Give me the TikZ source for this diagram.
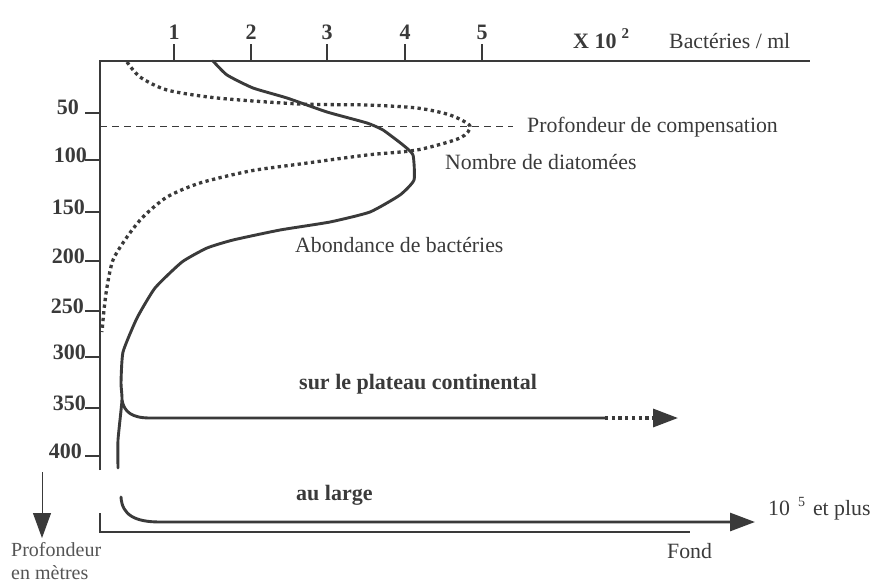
\documentclass[tikz,border=0pt]{standalone}
\usepackage{fontspec}
\setmainfont{Liberation Serif}
\usetikzlibrary{arrows.meta}
\definecolor{ink}{HTML}{3A3A3A}
\definecolor{pale}{HTML}{555555}
\begin{document}
\begin{tikzpicture}[x=1pt,y=-1pt,
  lbl/.style={inner sep=0pt, text=ink, font=\fontsize{21.8}{24}\selectfont},
  blbl/.style={inner sep=0pt, text=ink, font=\fontsize{22}{24}\selectfont\bfseries},
  axis/.style={draw=ink, line width=1.6pt},
  curve/.style={draw=ink, line width=2.9pt, line join=round, line cap=round},
  dots/.style={draw=ink, line width=3.3pt, dash pattern=on 3.3pt off 3.4pt},
  bigtip/.style={-{Triangle[length=25pt,width=18pt]}},
]
\useasboundingbox (0,0) rectangle (880,583);
\fill[white] (0,0) rectangle (880,583);

% axes
\coordinate (O) at (100,61);
\coordinate (ybot) at (100,470);
\coordinate (xend) at (810,61);
\draw[axis] (ybot) -- (O) -- (xend);
\coordinate (b1) at (100,513);
\coordinate (b2) at (100,532);
\coordinate (b3) at (690,532);
\draw[axis] (b1) -- (b2) -- (b3);

% top ticks
\foreach \i/\x in {1/174,2/251,3/327,4/405,5/482}{
  \draw[axis] (\x,61) -- (\x,44);
  \node[blbl, anchor=base] (t\i) at (\x,40) {\i};
}
\node[blbl, anchor=base west] (xunit) at (573,49) {X 10\hspace{5pt}\raisebox{10pt}{\fontsize{15}{16}\selectfont 2}};
\node[lbl, anchor=base west] (bact) at (669,49) {Bactéries / ml};

% left ticks
\foreach \v/\y/\x in {50/113/79,100/160/87,150/212/85,200/261/85,250/311/84,300/357/86,350/408/86,400/456/82}{
  \draw[axis] (85,\y) -- (100,\y);
  \node[blbl, anchor=base east] (d\v) at (\x,{\y+2}) {\v};
}

% compensation depth
\coordinate (c1) at (100,126);
\coordinate (c2) at (513,126);
\draw[ink, line width=0.8pt, dash pattern=on 7pt off 5pt] (c1) -- (c2);

% diatoms (dotted)
\draw[dots, line join=round] plot[smooth, tension=0.45] coordinates {
 (127,62) (140,77) (167,90) (217,98) (300,104) (367,105) (417,108)
 (450,115) (470,126) (460,138) (417,150) (367,155) (300,164) (250,171)
 (200,183) (167,197) (143,217) (127,237) (113,260) (107,287) (104,310) (102,332)};

% bacteria (solid)
\draw[curve] plot[smooth, tension=0.3] coordinates {
 (213,61) (227,75) (253,88) (287,98) (327,112) (367,123) (383,130)
 (403,145) (413,155) (414,180) (400,195) (370,212) (330,222) (280,230)
 (233,240) (207,248) (182,262) (155,288) (137,318) (123,352) (121,383) (122,400)
 (118,440) (118,468)};

% plateau continental
\coordinate (p0) at (122,400);
\coordinate (p1) at (150,418);
\coordinate (p2) at (605,418);
\coordinate (p3) at (678,418);
\draw[curve] (p0) .. controls (124,412) and (132,418) .. (p1) -- (p2);
\draw[dots, bigtip] (p2) -- (p3);

% au large
\coordinate (l0) at (121,497);
\coordinate (l1) at (160,522);
\coordinate (l2) at (755,522);
\draw[curve, bigtip] (l0) .. controls (122,515) and (135,522) .. (l1) -- (l2);

% depth arrow
\coordinate (a0) at (42,472);
\coordinate (a1) at (42,538);
\draw[draw=ink, line width=0.9pt, bigtip] (a0) -- (a1);

% labels
\node[lbl, anchor=base west] (comp) at (527,132) {Profondeur de compensation};
\node[lbl, anchor=base west] (diat) at (445,169) {Nombre de diatomées};
\node[lbl, anchor=base west] (abond) at (295,252) {Abondance de bactéries};
\node[blbl, anchor=base west] (plat) at (299,389) {sur le plateau continental};
\node[blbl, anchor=base west] (large) at (296,500) {au large};
\node[lbl, anchor=base west] (plus) at (768,515) {10\hspace{8pt}\raisebox{9pt}{\fontsize{14}{15}\selectfont 5}\hspace{8pt}et plus};
\node[lbl, anchor=base west] (fond) at (667,558) {Fond};
\node[inner sep=0pt, text=pale, font=\fontsize{20}{22}\selectfont, anchor=base west] (prof1) at (11,556) {Profondeur};
\node[inner sep=0pt, text=pale, font=\fontsize{20}{22}\selectfont, anchor=base west] (prof2) at (11,579) {en mètres};
\end{tikzpicture}
\end{document}
